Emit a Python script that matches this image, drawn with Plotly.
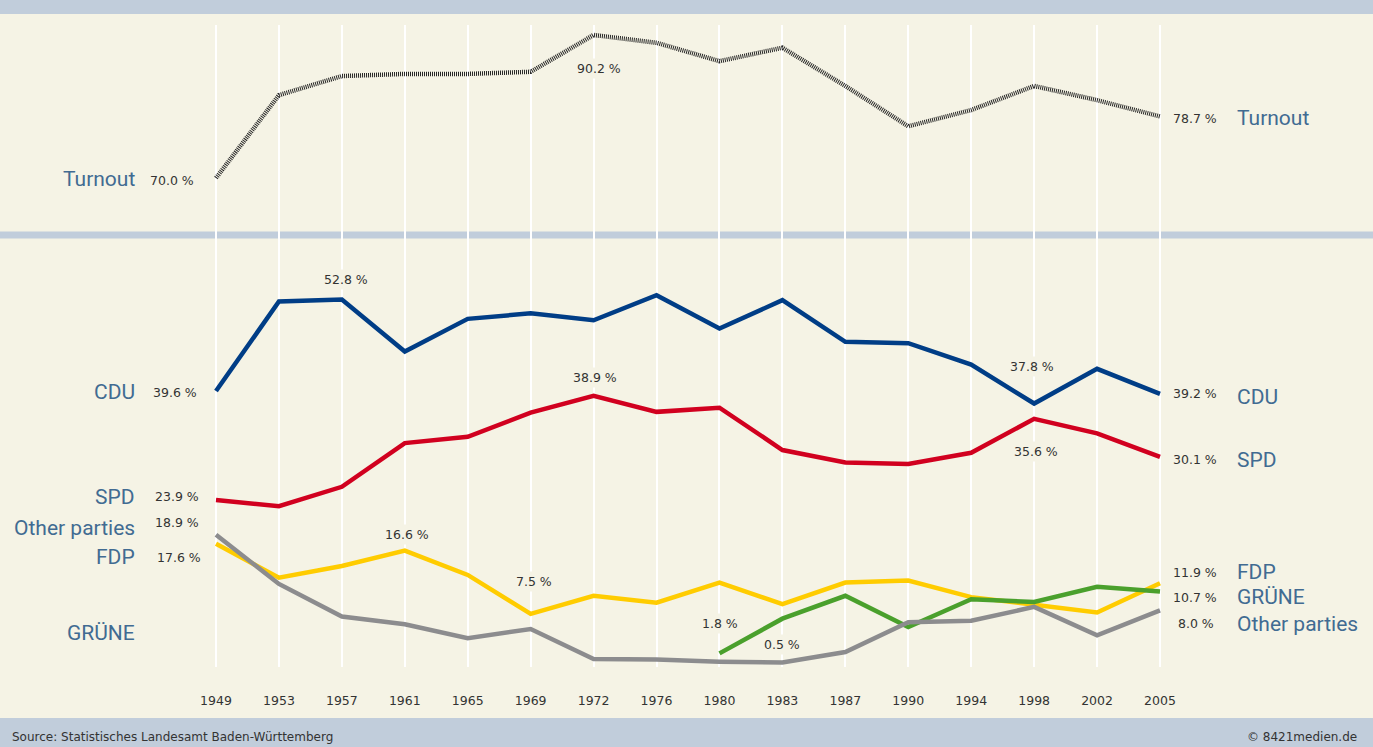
import plotly.graph_objects as go

years = ["1949", "1953", "1957", "1961", "1965", "1969", "1972", "1976",
         "1980", "1983", "1987", "1990", "1994", "1998", "2002", "2005"]
turnout = [70.0, 81.7, 84.4, 84.7, 84.7, 85.0, 90.2, 89.1,
           86.5, 88.4, 83.0, 77.3, 79.6, 83.0, 81.0, 78.7]
cdu = [39.6, 52.5, 52.8, 45.3, 50.0, 50.8, 49.8, 53.4,
       48.6, 52.7, 46.7, 46.5, 43.4, 37.8, 42.8, 39.2]
spd = [23.9, 23.0, 25.8, 32.1, 33.0, 36.5, 38.9, 36.6,
       37.2, 31.1, 29.3, 29.1, 30.7, 35.6, 33.5, 30.1]
fdp = [17.6, 12.7, 14.4, 16.6, 13.1, 7.5, 10.1, 9.1,
       12.0, 8.9, 12.0, 12.3, 9.9, 8.8, 7.7, 11.9]
gruene = [None, None, None, None, None, None, None, None,
          1.8, 6.8, 10.1, 5.6, 9.6, 9.2, 11.4, 10.7]
others = [18.9, 11.8, 7.1, 6.0, 4.0, 5.3, 1.0, 0.9,
          0.6, 0.5, 2.0, 6.3, 6.5, 8.5, 4.4, 8.0]

W, H = 1373, 747
CREAM = "#f5f3e5"
BAND = "#c1cddb"
NAME_C = "#416b92"
VAL_C = "#333333"
NAME_FONT = dict(family="Roboto, sans-serif", size=21, weight=400, color=NAME_C)
VAL_FONT = dict(family="DejaVu Sans, sans-serif", size=12.5, color=VAL_C)

fig = go.Figure()

fig.add_trace(go.Scatter(x=years, y=turnout, mode="lines", xaxis="x2", yaxis="y2",
                         line=dict(color="#262626", width=4.5, dash="1px,1px"),
                         hoverinfo="skip", showlegend=False))

series = [(fdp, "#ffcc00"), (gruene, "#4aa02c"), (others, "#8c8c8e"),
          (spd, "#d1001f"), (cdu, "#003d86")]
for vals, col in series:
    fig.add_trace(go.Scatter(x=years, y=vals, mode="lines", xaxis="x", yaxis="y",
                             line=dict(color=col, width=4.5), connectgaps=False,
                             hoverinfo="skip", showlegend=False))

step = 944 / 15.0
xr = [-216 / step, 15 + (W - 1160) / step]

def ypaper(px):
    return 1 - px / H

fig.update_layout(
    width=W, height=H,
    margin=dict(l=0, r=0, t=0, b=0),
    paper_bgcolor=CREAM, plot_bgcolor="rgba(0,0,0,0)",
    showlegend=False,
    xaxis=dict(domain=[0, 1], range=xr, type="category", anchor="y",
               showgrid=True, gridcolor="white", gridwidth=2, zeroline=False,
               showline=False, ticks="", ticklabelstandoff=24,
               tickfont=dict(family="DejaVu Sans, sans-serif", size=12.5, color=VAL_C)),
    yaxis=dict(domain=[ypaper(667), ypaper(232)],
               range=[23.9 - 167 / 6.94, 23.9 + 268 / 6.94],
               showgrid=False, zeroline=False, showticklabels=False, showline=False),
    xaxis2=dict(domain=[0, 1], range=xr, type="category", anchor="y2", matches="x",
                showgrid=True, gridcolor="white", gridwidth=2, zeroline=False,
                showline=False, showticklabels=False, ticks=""),
    yaxis2=dict(domain=[ypaper(238), ypaper(25)],
                range=[70 - 60 / 7.08, 70 + 153 / 7.08],
                showgrid=False, zeroline=False, showticklabels=False, showline=False),
)

# background bands
for y0, y1 in [(0, 14), (231.5, 238.5), (718, 747)]:
    fig.add_shape(type="rect", xref="paper", yref="paper", x0=0, x1=1,
                  y0=ypaper(y1), y1=ypaper(y0), fillcolor=BAND, line_width=0, layer="below")

ann = []

def xi(year):
    return years.index(year)

def name(text, year, y, ax, shift, yshift=0, xanchor="right"):
    ann.append(dict(x=xi(year), y=y, xref=ax[0], yref=ax[1], text=text, showarrow=False,
                    xanchor=xanchor, yanchor="middle", xshift=shift, yshift=yshift,
                    font=NAME_FONT))

def val(text, year, y, ax, shift=0, yshift=0, xanchor="center", bg=None):
    d = dict(x=xi(year), y=y, xref=ax[0], yref=ax[1], text=text, showarrow=False,
             xanchor=xanchor, yanchor="middle", xshift=shift, yshift=yshift,
             font=VAL_FONT, borderpad=2)
    if bg:
        d["bgcolor"] = bg
    ann.append(d)

top = ("x2", "y2")
bot = ("x", "y")

# Turnout
name("Turnout", years[0], turnout[0], top, -79, -1)
val("70.0 %", years[0], turnout[0], top, -19, -3, "right")
val("78.7 %", years[-1], turnout[-1], top, 60, -2, "right")
name("Turnout", years[-1], turnout[-1], top, 75, -2, "left")
val("90.2 %", "1972", 90.2, top, 5, -34, "center", CREAM)

# Left labels
name("CDU", years[0], cdu[0], bot, -79, -1)
val("39.6 %", years[0], cdu[0], bot, -16, -1, "right")
name("SPD", years[0], spd[0], bot, -79, 3)
val("23.9 %", years[0], spd[0], bot, -14, 4, "right")
name("Other parties", years[0], others[0], bot, -79, 7)
val("18.9 %", years[0], others[0], bot, -14, 12, "right")
name("FDP", years[0], fdp[0], bot, -79, -13)
val("17.6 %", years[0], fdp[0], bot, -12, -14, "right")
name("GRÜNE", years[0], 4.8, bot, -79, 0)

# Right labels
val("39.2 %", years[-1], cdu[-1], bot, 60, 0, "right")
name("CDU", years[-1], cdu[-1], bot, 75, -3, "left")
val("30.1 %", years[-1], spd[-1], bot, 60, -3, "right")
name("SPD", years[-1], spd[-1], bot, 75, -3, "left")
val("11.9 %", years[-1], fdp[-1], bot, 60, 11, "right")
name("FDP", years[-1], fdp[-1], bot, 75, 11, "left")
val("10.7 %", years[-1], gruene[-1], bot, 60, -6, "right")
name("GRÜNE", years[-1], gruene[-1], bot, 75, -5, "left")
val("8.0 %", years[-1], others[-1], bot, 57, -13, "right")
name("Other parties", years[-1], others[-1], bot, 75, -14, "left")

# In-chart value labels
val("52.8 %", "1957", 52.8, bot, 4, 20, "center", CREAM)
val("38.9 %", "1972", 38.9, bot, 1, 18, "center", CREAM)
val("37.8 %", "1998", 37.8, bot, -2, 37, "center", CREAM)
val("35.6 %", "1998", 35.6, bot, 2, -33, "center", CREAM)
val("16.6 %", "1961", 16.6, bot, 2, 16, "center", CREAM)
val("7.5 %", "1969", 7.5, bot, 3, 32, "center", CREAM)
val("1.8 %", "1980", 1.8, bot, 1, 30, "center", CREAM)
val("0.5 %", "1983", 0.5, bot, 0, 18, "center", CREAM)

# Footer
ann.append(dict(x=0, y=ypaper(737), xref="paper", yref="paper", xanchor="left", yanchor="middle",
                xshift=10, text="Source: Statistisches Landesamt Baden-Württemberg", showarrow=False,
                font=dict(family="DejaVu Sans, sans-serif", size=12, color=VAL_C)))
ann.append(dict(x=1, y=ypaper(737), xref="paper", yref="paper", xanchor="right", yanchor="middle",
                xshift=-14, text="© 8421medien.de", showarrow=False,
                font=dict(family="DejaVu Sans, sans-serif", size=12, color=VAL_C)))

fig.update_layout(annotations=ann)
fig.write_html("out.html", config={"displayModeBar": False},
               post_script="document.body.style.margin='0';document.body.style.overflow='hidden';")
